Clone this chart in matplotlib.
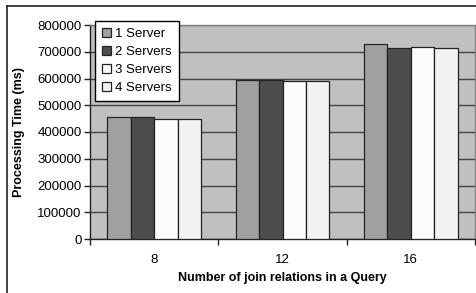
import matplotlib
matplotlib.use("Agg")
import matplotlib.pyplot as plt
import numpy as np
from matplotlib.lines import Line2D

plt.rcParams['font.family'] = ['Liberation Sans', 'DejaVu Sans']

categories = ["8", "12", "16"]
series_names = ["1 Server", "2 Servers", "3 Servers", "4 Servers"]
values_1 = [457000, 594000, 730000]
values_2 = [455000, 594000, 715000]
values_3 = [450000, 589000, 719000]
values_4 = [448000, 589000, 715000]
series = [values_1, values_2, values_3, values_4]
colors = ["#A0A0A0", "#4D4D4D", "#FCFCFC", "#F2F2F2"]
yticks = [0, 100000, 200000, 300000, 400000, 500000, 600000, 700000, 800000]

fig = plt.figure(figsize=(4.76, 2.93), dpi=100)
ax = fig.add_axes([90/476, 1-239/293, 385/476, 214/293])
ax.set_facecolor("#C0C0C0")

x = np.arange(len(categories))
n = len(series)
total = 0.73
w = total / n
for i, (vals, c) in enumerate(zip(series, colors)):
    ax.bar(x - total/2 + w*(i+0.5), vals, width=w, color=c,
           edgecolor="#222222", linewidth=0.9, label=series_names[i], zorder=3)

ax.set_xlim(-0.5, len(categories)-0.5)
ax.set_ylim(0, 800000)
ax.set_yticks(yticks)
ax.set_yticklabels([str(v) for v in yticks], fontsize=9.5)
ax.yaxis.grid(True, color="#444444", linewidth=1.0, zorder=1)
ax.set_axisbelow(True)

ax.set_xticks(x)
ax.set_xticklabels(categories, fontsize=9.5)
ax.tick_params(axis='x', length=0, pad=11)
ax.set_xticks(np.arange(len(categories)+1) - 0.5, minor=True)
ax.tick_params(axis='x', which='minor', length=4, color="#222222", width=1)
ax.tick_params(axis='y', length=4, color="#222222", width=1, pad=2)

for s in ["top", "right"]:
    ax.spines[s].set_color("#808080")
    ax.spines[s].set_linewidth(1.0)
for s in ["left", "bottom"]:
    ax.spines[s].set_color("#222222")
    ax.spines[s].set_linewidth(1.0)

ax.set_ylabel("Processing Time (ms)", fontsize=9, fontweight='bold', labelpad=9)
ax.set_xlabel("Number of join relations in a Query", fontsize=9, fontweight='bold', labelpad=4)

leg = ax.legend(loc='upper left', bbox_to_anchor=(5/385, (239-21)/214), borderaxespad=0,
                fontsize=9.5, frameon=True, fancybox=False, framealpha=1,
                edgecolor="#000000", handlelength=0.7, handleheight=0.7,
                handletextpad=0.25, labelspacing=0.42, borderpad=0.55)
leg.get_frame().set_linewidth(1.0)
leg.set_zorder(5)

fig.add_artist(Line2D([7/476, 7/476], [0, 1-6/293], transform=fig.transFigure, color="#222222", linewidth=1.2))
fig.add_artist(Line2D([7/476, 1], [1-6/293, 1-6/293], transform=fig.transFigure, color="#222222", linewidth=1.2))

fig.savefig("out.png", dpi=100)
